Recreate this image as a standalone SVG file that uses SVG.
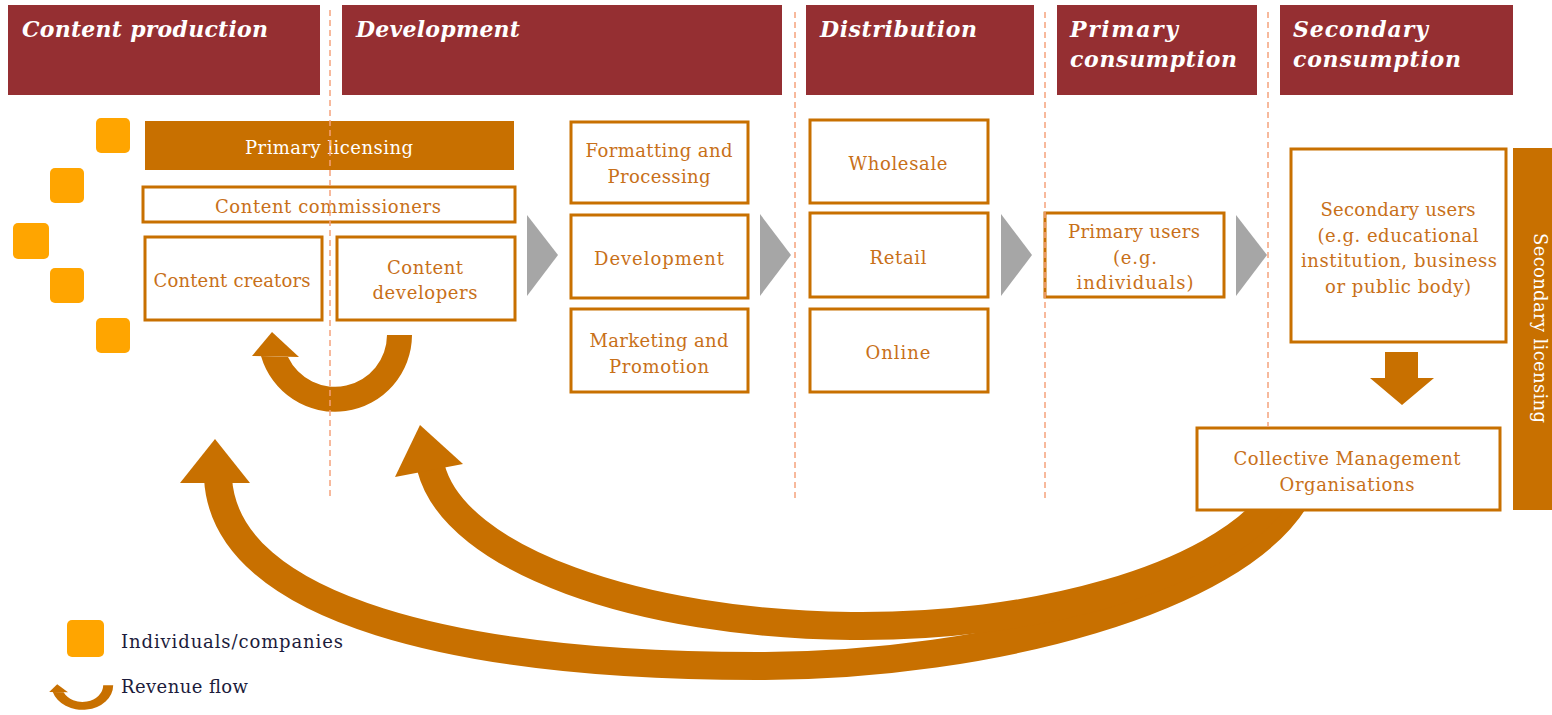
<svg xmlns="http://www.w3.org/2000/svg" xmlns:xlink="http://www.w3.org/1999/xlink" width="1552" height="715" viewBox="0 0 1552 715">
  <style>
    .hdr { fill: #952F32; }
    .ht { font-family: "DejaVu Serif", "Liberation Serif", serif; font-weight: bold; font-style: italic; font-size: 22px; fill: #ffffff; }
    .box { fill: #ffffff; stroke: #C87000; stroke-width: 3; }
    .solid { fill: #C87000; }
    .bt { font-family: "DejaVu Serif", "Liberation Serif", serif; font-size: 18px; fill: #C87019; text-anchor: middle; }
    .wt { font-family: "DejaVu Serif", "Liberation Serif", serif; font-size: 18px; fill: #ffffff; text-anchor: middle; }
    .lt { font-family: "DejaVu Serif", "Liberation Serif", serif; font-size: 18px; fill: #1C1C3C; }
    .sq { fill: #FFA500; }
    .chev { fill: #A6A6A6; }
    .dash { fill: none; stroke: #F5A27C; stroke-width: 1.5; stroke-dasharray: 6 4; }
    .band { fill: none; stroke: #C87000; stroke-width: 28; }
  </style>
  <defs>
    <!-- small U-turn revenue arrow -->
    <g id="loop">
      <path class="solid" d="M 412 335 A 77 77 0 0 1 261 356 L 288 357 A 52 52 0 0 0 387 335 Z"/>
      <polygon class="solid" points="272,332 299,357 252,356"/>
    </g>
  </defs>

  <!-- stage headers -->
  <g id="hdr-content-production">
    <rect class="hdr" x="8" y="5" width="312" height="90"/>
    <text class="ht" x="22" y="37" textLength="246">Content production</text>
  </g>
  <g id="hdr-development">
    <rect class="hdr" x="342" y="5" width="440" height="90"/>
    <text class="ht" x="356" y="37" textLength="164">Development</text>
  </g>
  <g id="hdr-distribution">
    <rect class="hdr" x="806" y="5" width="228" height="90"/>
    <text class="ht" x="820" y="37" textLength="157">Distribution</text>
  </g>
  <g id="hdr-primary-consumption">
    <rect class="hdr" x="1057" y="5" width="200" height="90"/>
    <text class="ht" x="1070" y="37" textLength="108">Primary</text>
    <text class="ht" x="1070" y="67" textLength="167">consumption</text>
  </g>
  <g id="hdr-secondary-consumption">
    <rect class="hdr" x="1280" y="5" width="233" height="90"/>
    <text class="ht" x="1293" y="37" textLength="135">Secondary</text>
    <text class="ht" x="1293" y="67" textLength="168">consumption</text>
  </g>

  <!-- individuals / companies -->
  <g id="individuals">
    <rect class="sq" x="96" y="118" width="34" height="35" rx="5"/>
    <rect class="sq" x="50" y="168" width="34" height="35" rx="5"/>
    <rect class="sq" x="13" y="223" width="36" height="36" rx="5"/>
    <rect class="sq" x="50" y="268" width="34" height="35" rx="5"/>
    <rect class="sq" x="96" y="318" width="34" height="35" rx="5"/>
  </g>

  <!-- content production / development -->
  <g id="primary-licensing">
    <rect class="solid" x="145" y="121" width="369" height="49"/>
    <text class="wt" x="329" y="154" textLength="168">Primary licensing</text>
  </g>
  <g id="content-commissioners">
    <rect class="box" x="143" y="187" width="372" height="35"/>
    <text class="bt" x="328" y="213" textLength="226">Content commissioners</text>
  </g>
  <g id="content-creators">
    <rect class="box" x="145" y="237" width="177" height="83"/>
    <text class="bt" x="232" y="287" textLength="157">Content creators</text>
  </g>
  <g id="content-developers">
    <rect class="box" x="337" y="237" width="178" height="83"/>
    <text class="bt" x="425" y="274" textLength="76">Content</text>
    <text class="bt" x="425" y="299" textLength="105">developers</text>
  </g>

  <g id="formatting-processing">
    <rect class="box" x="571" y="122" width="177" height="81"/>
    <text class="bt" x="659" y="157" textLength="147">Formatting and</text>
    <text class="bt" x="659" y="183" textLength="103">Processing</text>
  </g>
  <g id="development">
    <rect class="box" x="571" y="215" width="177" height="83"/>
    <text class="bt" x="659" y="265" textLength="130">Development</text>
  </g>
  <g id="marketing-promotion">
    <rect class="box" x="571" y="309" width="177" height="83"/>
    <text class="bt" x="659" y="347" textLength="139">Marketing and</text>
    <text class="bt" x="659" y="373" textLength="100">Promotion</text>
  </g>

  <!-- distribution -->
  <g id="wholesale">
    <rect class="box" x="810" y="120" width="178" height="83"/>
    <text class="bt" x="898" y="170" textLength="99">Wholesale</text>
  </g>
  <g id="retail">
    <rect class="box" x="810" y="213" width="178" height="84"/>
    <text class="bt" x="898" y="264" textLength="57">Retail</text>
  </g>
  <g id="online">
    <rect class="box" x="810" y="309" width="178" height="83"/>
    <text class="bt" x="898" y="359" textLength="65">Online</text>
  </g>

  <!-- consumption -->
  <g id="primary-users">
    <rect class="box" x="1045" y="213" width="179" height="84"/>
    <text class="bt" x="1134" y="238" textLength="132">Primary users</text>
    <text class="bt" x="1135" y="264" textLength="44">(e.g.</text>
    <text class="bt" x="1135" y="289" textLength="117">individuals)</text>
  </g>
  <g id="secondary-users">
    <rect class="box" x="1291" y="149" width="215" height="193"/>
    <text class="bt" x="1398" y="216" textLength="155">Secondary users</text>
    <text class="bt" x="1398" y="242" textLength="161">(e.g. educational</text>
    <text class="bt" x="1399" y="267" textLength="196">institution, business</text>
    <text class="bt" x="1398" y="293" textLength="146">or public body)</text>
  </g>
  <g id="secondary-licensing">
    <rect class="solid" x="1513" y="148" width="39" height="362"/>
    <text class="wt" transform="translate(1534 328) rotate(90)" textLength="190">Secondary licensing</text>
  </g>

  <!-- connectors -->
  <g id="connectors">
    <polygon class="chev" points="527,215 558,255 527,296"/>
    <polygon class="chev" points="760,214 791,255 760,296"/>
    <polygon class="chev" points="1001,214 1032,255 1001,296"/>
    <polygon class="chev" points="1236,215 1267,255 1236,296"/>
    <polygon class="solid" points="1385,352 1418,352 1418,378 1434,378 1402,405 1370,378 1385,378"/>
    <!-- revenue flows back from the collective management organisations -->
    <path class="band" d="M 1296 498 C 1235 600, 990 665, 765 666 C 460 667, 225 610, 218 478"/>
    <path class="band" d="M 1276 498 C 1215 580, 1030 628, 851 626 C 640 624, 455 560, 431 468"/>
    <polygon class="solid" points="215,439 250,483 180,483"/>
    <polygon class="solid" points="420,425 463,464 395,477"/>
    <use href="#loop" xlink:href="#loop"/>
  </g>

  <g id="cmo">
    <rect class="box" x="1197" y="428" width="303" height="82"/>
    <text class="bt" x="1347" y="465" textLength="227">Collective Management</text>
    <text class="bt" x="1347" y="491" textLength="135">Organisations</text>
  </g>

  <!-- stage dividers -->
  <g id="dividers">
    <line class="dash" x1="330" y1="10" x2="330" y2="500"/>
    <line class="dash" x1="795" y1="12" x2="795" y2="500"/>
    <line class="dash" x1="1045" y1="12" x2="1045" y2="500"/>
    <line class="dash" x1="1268" y1="12" x2="1268" y2="427"/>
  </g>

  <!-- legend -->
  <g id="legend">
    <rect class="sq" x="67" y="620" width="37" height="37" rx="5"/>
    <text class="lt" x="121" y="648" textLength="222">Individuals/companies</text>
    <use href="#loop" xlink:href="#loop" transform="translate(-51.6 578.1) scale(0.4 0.32)"/>
    <text class="lt" x="121" y="693" textLength="127">Revenue flow</text>
  </g>
</svg>
